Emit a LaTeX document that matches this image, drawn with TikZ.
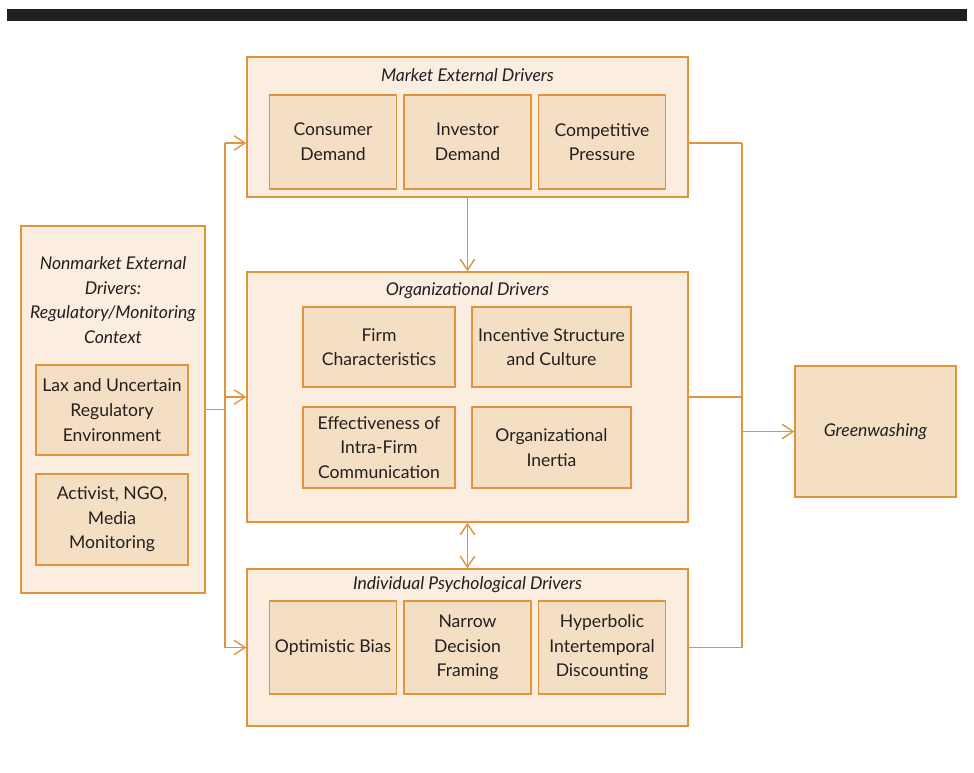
\documentclass[tikz,border=0pt]{standalone}
\usepackage{fontspec}
\setmainfont{Lato}
\usepackage{tikz}
\usetikzlibrary{arrows.meta,positioning}
\definecolor{edge}{HTML}{E0953A}
\definecolor{outerfill}{HTML}{FBEDDF}
\definecolor{innerfill}{HTML}{F5DFC4}
\definecolor{ink}{HTML}{231F20}

\begin{document}
\begin{tikzpicture}[x=0.025cm, y=-0.025cm,
    every node/.style={font=\fontsize{12.5}{17.5}\selectfont, text=ink, align=center},
    outer/.style={draw=edge, fill=outerfill, line width=1pt, inner sep=0pt},
    inner/.style={draw=edge, fill=innerfill, line width=1pt, inner sep=2pt},
    title/.style={font=\fontsize{12.5}{17.5}\selectfont\itshape},
    link/.style={draw=edge, line width=1pt},
    barb/.tip={Straight Barb[length=2.7mm,width=3.6mm]},
    arr/.style={link, -barb},
    twoway/.style={link, barb-barb}]
            \useasboundingbox (0,0) rectangle (974,773);
            \fill[ink] (7,9) rectangle (967,21);
            % outer boxes
            \node[outer, minimum width=11.025cm, minimum height=3.5cm] (market) at (467.5,127) {};
            \node[outer, minimum width=11.025cm, minimum height=6.25cm] (org) at (467.5,397) {};
            \node[outer, minimum width=11.025cm, minimum height=3.925cm] (indiv) at (467.5,647.5) {};
            \node[outer, minimum width=4.6cm, minimum height=9.175cm] (nonmarket) at (113,409.5) {};
            \node[inner, minimum width=4.025cm, minimum height=3.275cm, font=\fontsize{12.5}{17.5}\selectfont\itshape] (green) at (875.5,431.5) {Greenwashing};
            % titles
            \node[title] (markettitle) at (467.5,75) {Market External Drivers};
            \node[title] (orgtitle) at (467.5,291) {Organizational Drivers};
            \node[title] (indivtitle) at (467.5,585) {Individual Psychological Drivers};
            \node[title] (nonmarkettitle) at (113,300) {Nonmarket External\\Drivers:\\Regulatory/Monitoring\\Context};
            % inner boxes
            \node[inner, minimum width=3.175cm, minimum height=2.35cm] (consumer) at (333,142) {Consumer\\Demand};
            \node[inner, minimum width=3.175cm, minimum height=2.35cm] (investor) at (467.5,142) {Investor\\Demand};
            \node[inner, minimum width=3.175cm, minimum height=2.35cm] (competitive) at (602,142) {Competitive\\Pressure};
            \node[inner, minimum width=3.8cm, minimum height=2cm] (firm) at (379,347) {Firm\\Characteristics};
            \node[inner, minimum width=3.975cm, minimum height=2cm] (incentive) at (551.5,347) {Incentive Structure\\and Culture};
            \node[inner, minimum width=3.8cm, minimum height=2.025cm] (effect) at (379,447.5) {Effectiveness of\\Intra-Firm\\Communication};
            \node[inner, minimum width=3.975cm, minimum height=2.025cm] (inertia) at (551.5,447.5) {Organizational\\Inertia};
            \node[inner, minimum width=3.175cm, minimum height=2.325cm] (optimistic) at (333,647.5) {Optimistic Bias};
            \node[inner, minimum width=3.175cm, minimum height=2.325cm] (narrow) at (467.5,647.5) {Narrow\\Decision\\Framing};
            \node[inner, minimum width=3.175cm, minimum height=2.325cm] (hyperbolic) at (602,647.5) {Hyperbolic\\Intertemporal\\Discounting};
            \node[inner, minimum width=3.8cm, minimum height=2.25cm] (lax) at (112,410) {Lax and Uncertain\\Regulatory\\Environment};
            \node[inner, minimum width=3.8cm, minimum height=2.275cm] (activist) at (112,519.5) {Activist, NGO,\\Media\\Monitoring};
            % connectors
            \coordinate (lt) at (225,143);
            \coordinate (lb) at (225,648);
            \coordinate (rt) at (742,143);
            \coordinate (rb) at (742,648);
            \draw[link] (lt) -- (lb);
            \draw[link] (nonmarket.east) -- (nonmarket.east -| lt);
            \draw[arr] (lt) -- (lt -| market.west);
            \draw[arr] (org.west -| lt) -- (org.west);
            \draw[arr] (indiv.west -| lt) -- (indiv.west);
            \draw[link] (rt) -- (rb);
            \draw[link] (market.east |- rt) -- (rt);
            \draw[link] (org.east) -- (org.east -| rt);
            \draw[link] (indiv.east) -- (indiv.east -| rt);
            \draw[arr] (green.west -| rt) -- (green.west);
            \draw[arr] (market.south) -- (org.north);
            \draw[twoway] (org.south) -- (indiv.north);
        \end{tikzpicture}
\end{document}
